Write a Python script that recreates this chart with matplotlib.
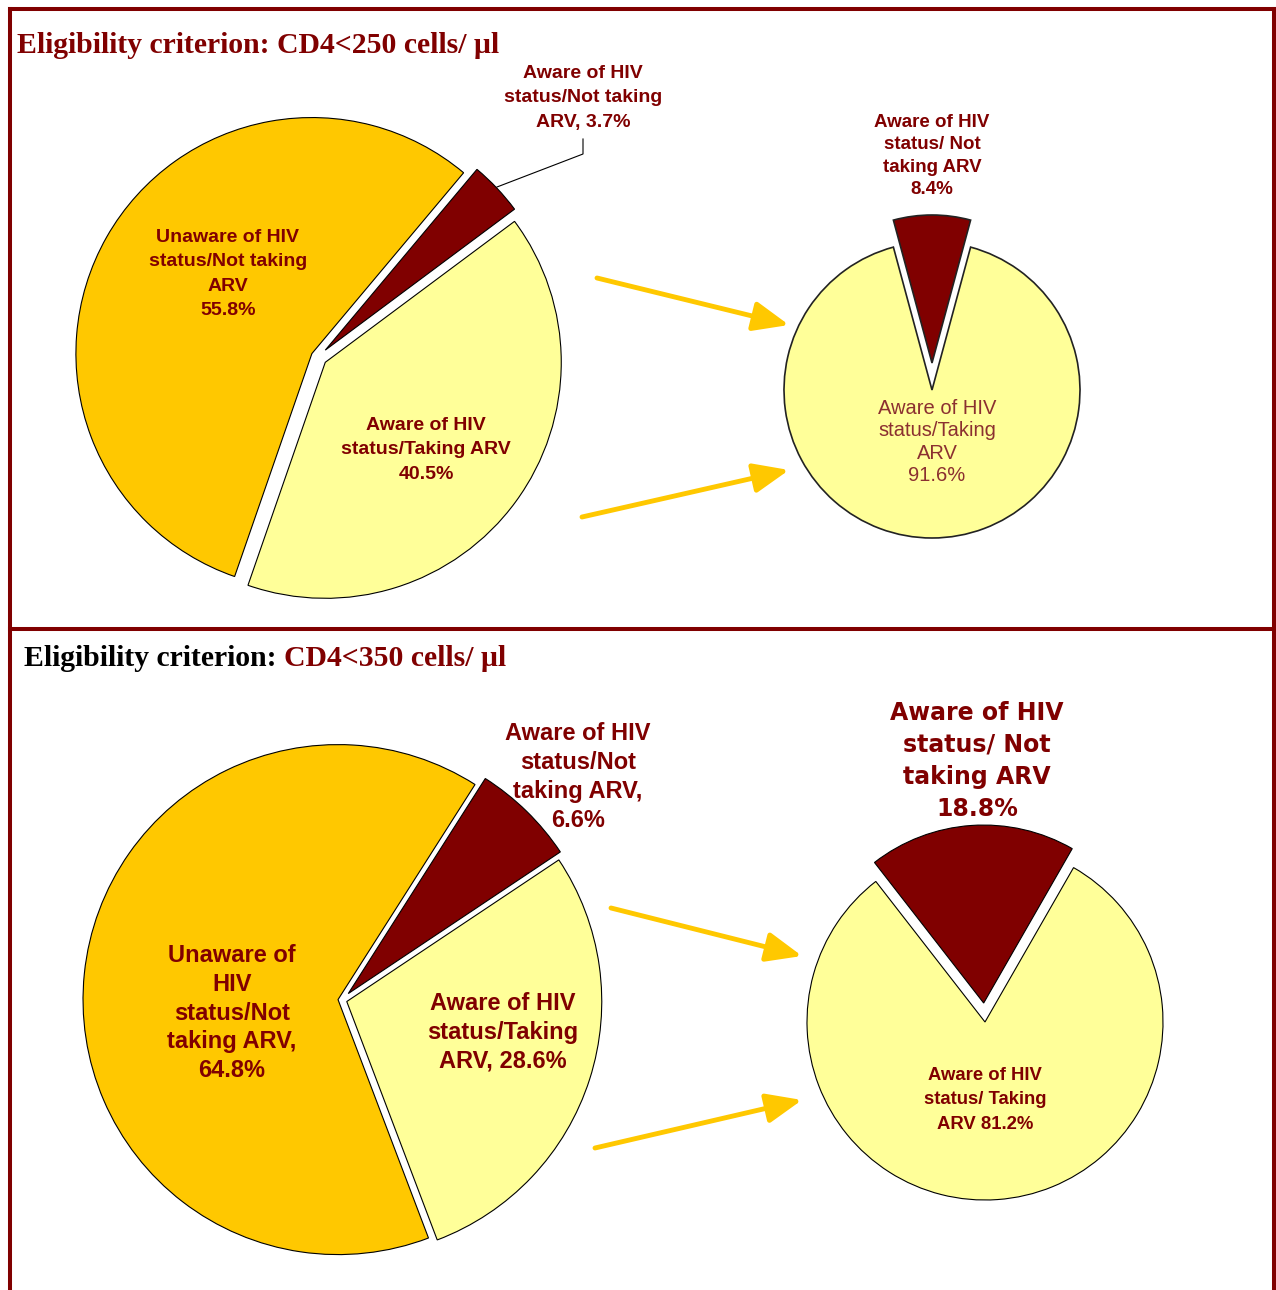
import matplotlib.pyplot as plt

W, H = 1276, 1290

# data: share of eligible people, CD4<250 and CD4<350
groups = ["Aware of HIV status/Not taking ARV",
          "Aware of HIV status/Taking ARV",
          "Unaware of HIV status/Not taking ARV"]
share_250 = [3.7, 40.5, 55.8]
share_350 = [6.6, 28.6, 64.8]
# among those aware of status: not taking, taking
aware_250 = [8.4, 91.6]
aware_350 = [18.8, 81.2]

DARK = "#800000"
ORANGE = "#FFC800"
LIGHT = "#FFFF99"

fig = plt.figure(figsize=(W / 100, H / 100), dpi=100)
ax = fig.add_axes([0, 0, 1, 1])

wp = dict(edgecolor="black", linewidth=0.8)


def y(v):
    # pixel rows from the top -> data y
    return H - v


# ---- top panel: CD4<250
ax.pie(share_250, colors=[DARK, LIGHT, ORANGE], startangle=50, counterclock=False,
       center=(318, y(357)), radius=236, explode=[10, 9, 7], wedgeprops=wp)
ax.pie(aware_250, colors=[DARK, LIGHT], startangle=90 + aware_250[0] * 1.8,
       counterclock=False, center=(932, y(390)), radius=148, explode=[27, 0],
       wedgeprops=dict(edgecolor="#222222", linewidth=1.2))

# ---- bottom panel: CD4<350
ax.pie(share_350, colors=[DARK, LIGHT, ORANGE], startangle=57.5, counterclock=False,
       center=(342, y(1000)), radius=255, explode=[9, 5, 4], wedgeprops=wp)
ax.pie(aware_350, colors=[DARK, LIGHT], startangle=90 + aware_350[0] * 1.8 + 4,
       counterclock=False, center=(985, y(1022)), radius=178, explode=[19, 0],
       wedgeprops=wp)

sans = "Liberation Sans"
lab = dict(ha="center", va="center", color=DARK, family=sans, weight="bold")

# top-left pie labels
ax.text(228, y(274), f"Unaware of HIV\nstatus/Not taking\nARV\n{share_250[2]}%",
        fontsize=14, linespacing=1.58, **lab)
ax.text(426, y(450), f"Aware of HIV\nstatus/Taking ARV\n{share_250[1]}%",
        fontsize=14, linespacing=1.58, **lab)
ax.text(583, y(98), f"Aware of HIV\nstatus/Not taking\nARV, {share_250[0]}%",
        fontsize=14, linespacing=1.58, **lab)
ax.plot([497, 583, 583], [y(187), y(154), y(139)], color="black", lw=0.8)

# top-right pie labels
ax.text(932, y(156), f"Aware of HIV\nstatus/ Not\ntaking ARV\n{aware_250[0]}%",
        fontsize=13.5, linespacing=1.39, **lab)
ax.text(937, y(442), f"Aware of HIV\nstatus/Taking\nARV\n{aware_250[1]}%",
        ha="center", va="center", color="#8b3030", family=sans,
        fontsize=14.5, linespacing=1.21)

# bottom-left pie labels
ax.text(232, y(1013), f"Unaware of\nHIV\nstatus/Not\ntaking ARV,\n{share_350[2]}%",
        fontsize=17, linespacing=1.33, **lab)
ax.text(578, y(777), f"Aware of HIV\nstatus/Not\ntaking ARV,\n{share_350[0]}%",
        fontsize=17, linespacing=1.33, **lab)
ax.text(503, y(1032), f"Aware of HIV\nstatus/Taking\nARV, {share_350[1]}%",
        fontsize=17, linespacing=1.33, **lab)

# bottom-right pie labels
ax.text(977, y(761), f"Aware of HIV\nstatus/ Not\ntaking ARV\n{aware_350[0]}%",
        ha="center", va="center", color=DARK, family="DejaVu Sans", weight="bold",
        fontsize=17, linespacing=1.43)
ax.text(985, y(1100), f"Aware of HIV\nstatus/ Taking\nARV {aware_350[1]}%",
        fontsize=13.3, linespacing=1.55, **lab)

# arrows from the aware slices to the breakdown pies
arr = dict(arrowstyle="-|>,head_length=0.6,head_width=0.25", color=ORANGE,
           lw=3.5, mutation_scale=36, shrinkA=0, shrinkB=0)
for (x0, y0), (x1, y1) in [((597, 278), (789, 325)), ((582, 517), (789, 470)),
                           ((611, 908), (802, 956)), ((595, 1148), (802, 1100))]:
    ax.annotate("", xy=(x1, y(y1)), xytext=(x0, y(y0)), arrowprops=arr)

# titles
serif = "Liberation Serif"
ax.text(17, y(53), "Eligibility criterion: CD4<250 cells/ \u03bcl", color=DARK,
        family=serif, weight="bold", fontsize=21.4, ha="left", va="baseline")
t2 = ax.text(24, y(666), "Eligibility criterion: ", color="black",
             family=serif, weight="bold", fontsize=21.4, ha="left", va="baseline")
ax.annotate("CD4<350 cells/ \u03bcl", xy=(1, 0), xycoords=t2, ha="left", va="bottom",
            color=DARK, family=serif, weight="bold", fontsize=21.4)

# frame
fr = dict(color=DARK, lw=2.9, solid_capstyle="projecting")
ax.plot([10, 10], [0, y(9)], **fr)
ax.plot([1274, 1274], [0, y(9)], **fr)
ax.plot([10, 1274], [y(9), y(9)], **fr)
ax.plot([10, 1274], [y(629), y(629)], **fr)

ax.set_xlim(0, W)
ax.set_ylim(0, H)
ax.set_aspect("equal")
ax.axis("off")

fig.savefig("out.png", dpi=100)
